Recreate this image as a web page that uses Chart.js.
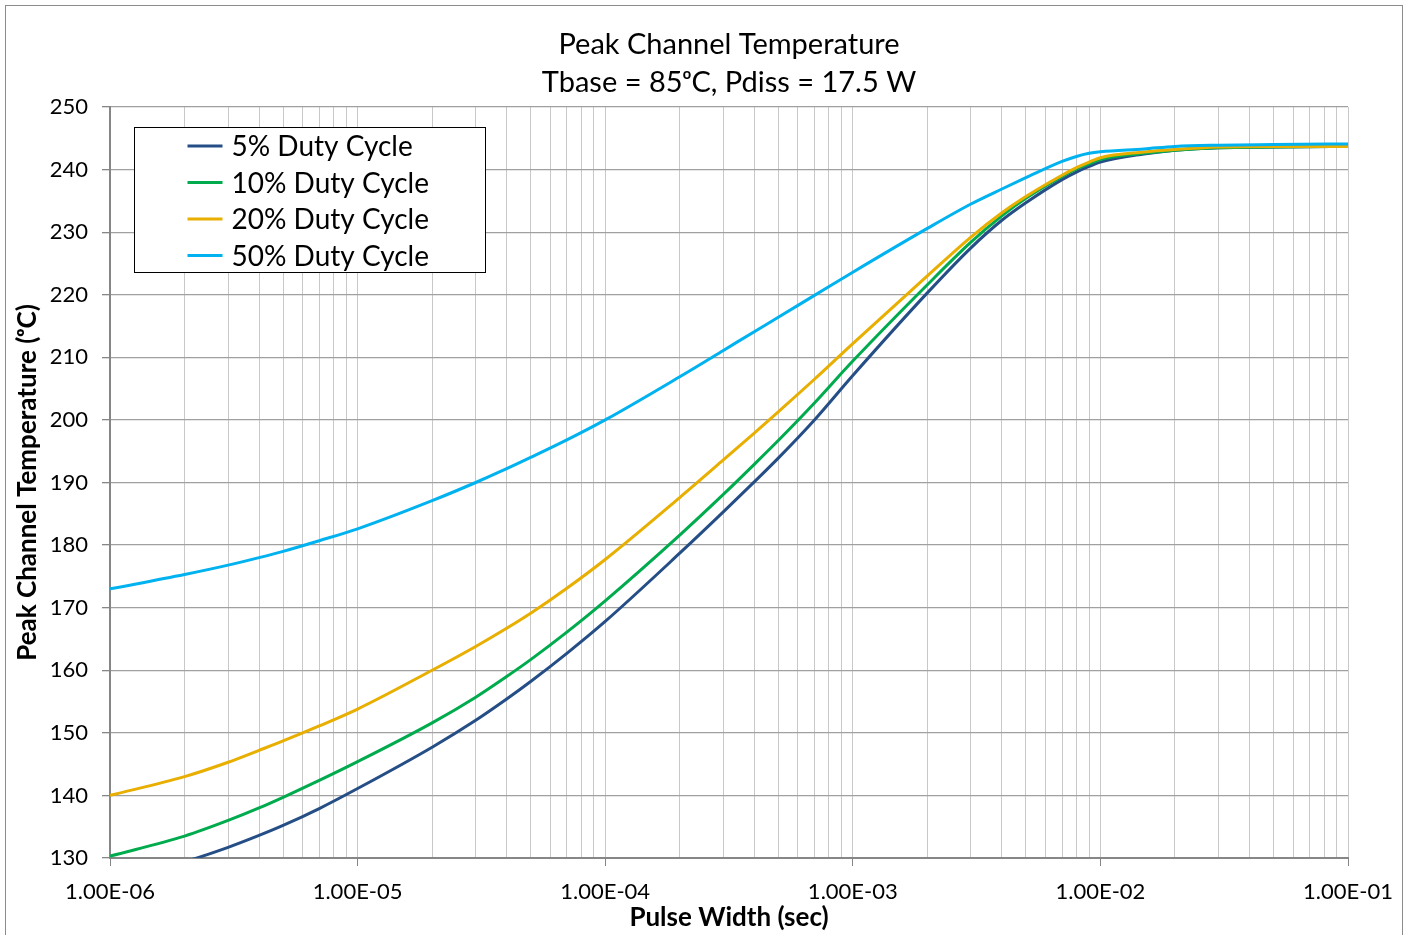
<!DOCTYPE html>
<html>
<head>
<meta charset="utf-8">
<script src="https://cdn.jsdelivr.net/npm/chart.js@4.4.1/dist/chart.umd.min.js"></script>
<style>
  body { margin: 0; background: #fff; }
  #wrap { position: relative; width: 1411px; height: 935px; }
</style>
</head>
<body>
<div id="wrap"><canvas id="chart"></canvas></div>
<script>
// pulse width (sec) where the curves were read
const pulseWidth = [1e-6, 2e-6, 3e-6, 4e-6, 5e-6, 7e-6,
                    1e-5, 2e-5, 3e-5, 4e-5, 5e-5, 7e-5,
                    1e-4, 2e-4, 3e-4, 4e-4, 5e-4, 7e-4,
                    1e-3, 2e-3, 3e-3, 4e-3, 5e-3, 7e-3, 8e-3, 9e-3,
                    1e-2, 1.5e-2, 2e-2, 3e-2, 5e-2, 1e-1];

// peak channel temperature (C)
const duty5  = [126.4, 129.4, 131.7, 133.6, 135.2, 137.9,
                141.1, 147.7, 152.0, 155.4, 158.2, 162.7,
                167.8, 178.7, 185.3, 190.1, 193.9, 200.0,
                207.1, 220.3, 227.5, 231.9, 234.7, 238.4, 239.6, 240.5,
                241.2, 242.5, 243.1, 243.5, 243.6, 243.7];
const duty10 = [130.3, 133.5, 136.0, 138.0, 139.7, 142.4,
                145.4, 151.6, 155.7, 159.0, 161.7, 166.1,
                171.1, 181.6, 188.1, 192.9, 196.7, 202.7,
                209.4, 221.6, 228.4, 232.6, 235.4, 238.9, 240.1, 240.9,
                241.6, 242.6, 243.1, 243.5, 243.6, 243.7];
const duty20 = [140.0, 143.0, 145.3, 147.2, 148.7, 151.1,
                153.8, 160.0, 163.8, 166.7, 169.1, 173.1,
                177.7, 187.6, 193.6, 197.9, 201.3, 206.5,
                212.2, 223.0, 229.2, 233.1, 235.7, 239.1, 240.3, 241.2,
                241.9, 242.8, 243.2, 243.6, 243.7, 243.7];
const duty50 = [173.0, 175.3, 176.8, 178.0, 179.0, 180.7,
                182.6, 187.1, 190.0, 192.2, 194.0, 196.8,
                200.0, 206.9, 211.1, 214.1, 216.4, 219.9,
                223.6, 230.6, 234.5, 236.9, 238.7, 241.3, 242.1, 242.6,
                242.85, 243.3, 243.7, 243.9, 244.0, 244.1];

const seriesLabels = ['5% Duty Cycle', '10% Duty Cycle', '20% Duty Cycle', '50% Duty Cycle'];
const seriesColors = ['#254e86', '#00ab4e', '#e8ae00', '#00b2ef'];

const titleLines = ['Peak Channel Temperature', 'Tbase = 85\u1D52C, Pdiss = 17.5 W'];

// x axis: decades get a label, the 2..9 in between only a grid line
const xDecades = [1e-6, 1e-5, 1e-4, 1e-3, 1e-2, 1e-1];
const xTickLabels = ['1.00E-06', '1.00E-05', '1.00E-04', '1.00E-03', '1.00E-02', '1.00E-01'];
const yMin = 130, yMax = 250, yStep = 10;

const FONT = 'Lato, "Open Sans", sans-serif';

function toPoints(ys) {
  return ys.map((y, i) => ({ x: pulseWidth[i], y: y }));
}
function decadeIndex(v) {
  return xDecades.findIndex(d => Math.abs(d - v) / d < 1e-6);
}

const allSeries = [duty5, duty10, duty20, duty50];
const datasets = allSeries.map((ys, i) => ({
  label: seriesLabels[i],
  data: toPoints(ys),
  borderColor: seriesColors[i],
  backgroundColor: seriesColors[i],
  borderWidth: 3,
  pointRadius: 0,
  showLine: true,
  cubicInterpolationMode: 'monotone',
  order: 4 - i // 50% drawn on top
}));

// white page, thin grey frame and the two line title centred over the plot
const frame = {
  id: 'frame',
  beforeDraw(chart) {
    const ctx = chart.ctx;
    ctx.save();
    ctx.fillStyle = '#fff';
    ctx.fillRect(0, 0, chart.width, chart.height);
    ctx.strokeStyle = '#8c8c8c';
    ctx.lineWidth = 1;
    ctx.strokeRect(5.5, 5.5, 1397, 960);
    ctx.restore();
  },
  afterDraw(chart) {
    const ctx = chart.ctx;
    const a = chart.chartArea;
    const cx = (a.left + a.right) / 2;
    ctx.save();
    ctx.fillStyle = '#000';
    ctx.font = '29px ' + FONT;
    ctx.textAlign = 'center';
    ctx.textBaseline = 'middle';
    titleLines.forEach((t, i) => ctx.fillText(t, cx, a.top - 62 + i * 38));
    ctx.restore();
  }
};

// legend boxed inside the plot, top left
const boxLegend = {
  id: 'boxLegend',
  afterDatasetsDraw(chart) {
    const ctx = chart.ctx;
    const a = chart.chartArea;
    const bx = a.left + 24.5, by = a.top + 20.5, bw = 351, bh = 145;
    ctx.save();
    ctx.fillStyle = '#fff';
    ctx.fillRect(bx, by, bw, bh);
    ctx.strokeStyle = '#000';
    ctx.lineWidth = 1;
    ctx.strokeRect(bx, by, bw, bh);
    ctx.font = '28px ' + FONT;
    ctx.textBaseline = 'middle';
    chart.data.datasets.forEach((ds, i) => {
      const y = by + 18.5 + i * 36.5;
      ctx.strokeStyle = ds.borderColor;
      ctx.lineWidth = 3;
      ctx.beginPath();
      ctx.moveTo(bx + 53, y);
      ctx.lineTo(bx + 88, y);
      ctx.stroke();
      ctx.fillStyle = '#000';
      ctx.fillText(ds.label, bx + 97, y + 1);
    });
    ctx.restore();
  }
};

new Chart(document.getElementById('chart'), {
  type: 'scatter',
  data: { datasets: datasets },
  plugins: [frame, boxLegend],
  options: {
    responsive: true,
    maintainAspectRatio: false,
    animation: false,
    layout: { padding: { left: 0, right: 63, top: 107, bottom: 0 } },
    plugins: {
      legend: { display: false },
      tooltip: { enabled: false },
      title: { display: false }
    },
    scales: {
      x: {
        type: 'logarithmic',
        min: xDecades[0],
        max: xDecades[xDecades.length - 1],
        afterBuildTicks(scale) {
          const ticks = [];
          xDecades.forEach((d, k) => {
            const last = k === xDecades.length - 1;
            for (let m = 1; m <= (last ? 1 : 9); m++) ticks.push({ value: d * m });
          });
          scale.ticks = ticks;
        },
        afterFit(scale) { scale.height = 77; },
        ticks: {
          autoSkip: false,
          maxRotation: 0,
          color: '#000',
          font: { family: FONT, size: 22 },
          padding: 13,
          callback(value) {
            const k = decadeIndex(value);
            return k >= 0 ? xTickLabels[k] : '';
          }
        },
        grid: {
          color: '#c8c8c8',
          lineWidth: 1,
          tickLength: 8,
          tickColor: ctx => decadeIndex(ctx.tick.value) >= 0 ? '#868686' : 'rgba(0,0,0,0)'
        },
        border: { color: '#868686', width: 2 },
        title: {
          display: true,
          text: 'Pulse Width (sec)',
          color: '#000',
          font: { family: FONT, size: 26, weight: 'bold' },
          padding: { top: 0, bottom: 2 }
        }
      },
      y: {
        min: yMin,
        max: yMax,
        afterFit(scale) { scale.width = 110; },
        ticks: {
          stepSize: yStep,
          color: '#000',
          font: { family: FONT, size: 22 },
          padding: 14
        },
        grid: {
          color: '#a0a0a0',
          lineWidth: 1.3,
          tickLength: 8,
          tickColor: '#868686'
        },
        border: { color: '#868686', width: 2 },
        title: {
          display: true,
          text: 'Peak Channel Temperature (\u1D52C)',
          color: '#000',
          font: { family: FONT, size: 26, weight: 'bold' },
          padding: { top: 12, bottom: 0 }
        }
      }
    }
  }
});
</script>
</body>
</html>
